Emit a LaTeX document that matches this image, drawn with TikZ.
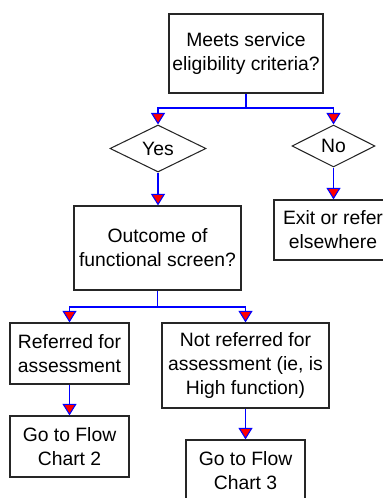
\documentclass[tikz,border=0pt]{standalone}
\usepackage{fontspec}
\setmainfont{Liberation Sans}
\usetikzlibrary{shapes.geometric,arrows.meta}
\begin{document}
\begin{tikzpicture}[font=\fontsize{11}{13.7}\selectfont,
  box/.style={rectangle,draw=black!85,line width=0.7pt,align=center,inner sep=0pt},
  choice/.style={diamond,draw=black!85,line width=0.6pt,inner sep=0pt,aspect=2},
  link/.style={blue,line width=0.6pt,-{Triangle[width=0.28cm,length=0.23cm,fill=red]}}]
\useasboundingbox (0,0) rectangle (7.66,-9.96);
% eligibility question
\node[box,minimum width=3.08cm,minimum height=1.58cm] (elig) at (4.92,-1.07) {Meets service\\eligibility criteria?};
\node[choice,minimum width=1.92cm,minimum height=0.94cm] (yes) at (3.16,-2.97) {Yes};
\node[choice,minimum width=1.66cm,minimum height=0.84cm] (no) at (6.67,-2.92) {No};
\coordinate (split1) at (4.92,-2.16);
\draw[link] (elig.south) -- (split1) -| (yes.north);
\draw[link] (split1) -| (no.north);
% outcomes of first decision
\node[box,minimum width=3.34cm,minimum height=1.68cm] (screen) at (3.15,-4.96) {Outcome of\\functional screen?};
\node[box,minimum width=2.36cm,minimum height=1.2cm] (exit) at (6.66,-4.6) {Exit or refer\\elsewhere};
\draw[link] (yes.south) -- (yes.south |- screen.north);
\draw[link] (no.south) -- (no.south |- exit.north);
% functional screen results
\node[box,minimum width=2.38cm,minimum height=1.22cm] (ref) at (1.39,-7.07) {Referred for\\assessment};
\node[box,minimum width=3.34cm,minimum height=1.7cm] (noref) at (4.91,-7.31) {Not referred for\\assessment (ie, is\\High function)};
\coordinate (split2) at (3.15,-6.14);
\draw[link] (screen.south) -- (split2) -| (ref.north);
\draw[link] (split2) -| (noref.north);
% next charts
\node[box,minimum width=2.38cm,minimum height=1.22cm] (chart2) at (1.39,-8.93) {Go to Flow\\Chart 2};
\node[box,minimum width=2.38cm,minimum height=1.22cm] (chart3) at (4.91,-9.41) {Go to Flow\\Chart 3};
\draw[link] (ref.south) -- (chart2.north);
\draw[link] (noref.south) -- (chart3.north);
\end{tikzpicture}
\end{document}
